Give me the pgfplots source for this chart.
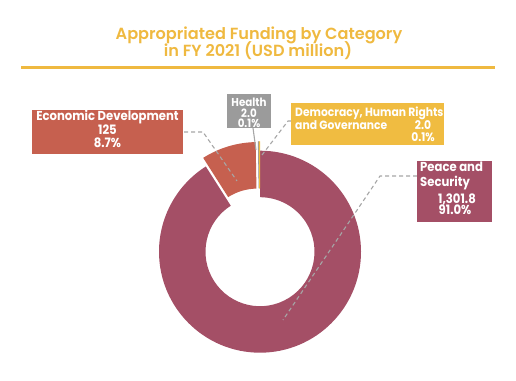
\documentclass[border=0pt]{standalone}
\usepackage{pgfplots}
\usepackage{pgfplotstable}
\pgfplotsset{compat=1.18}
\usepackage{fontspec}
\setmainfont{Poppins}
\newfontfamily\titlefont{Poppins}[UprightFont={* SemiBold}]
\newfontfamily\lblfont{Poppins}[UprightFont={* Bold}, FakeStretch=0.9]
\definecolor{gold}{RGB}{239,185,64}
\definecolor{demo}{RGB}{240,188,65}
\definecolor{econ}{RGB}{198,96,79}
\definecolor{peace}{RGB}{164,79,102}
\definecolor{health}{RGB}{155,155,155}
\definecolor{lead}{RGB}{166,166,166}

\pgfplotstableread{
cat value
Peace 1301.8
Econ 125
Health 2.0
Democ 2.0
}\fundtable

\begin{document}
\begin{tikzpicture}
\begin{axis}[
  scale only axis, width=516bp, height=381bp,
  xmin=0, xmax=516, ymin=0, ymax=381,
  hide axis, clip=false]
\path (axis cs:0,0) rectangle (axis cs:516,381);
\pgfplotstablegetelem{0}{value}\of\fundtable \let\vP\pgfplotsretval
\pgfplotstablegetelem{1}{value}\of\fundtable \let\vE\pgfplotsretval
\pgfplotstablegetelem{2}{value}\of\fundtable \let\vH\pgfplotsretval
\pgfplotstablegetelem{3}{value}\of\fundtable \let\vD\pgfplotsretval
\pgfmathsetmacro\tot{\vP/100+\vE/100+\vH/100+\vD/100}
\pgfmathsetmacro\aA{90}
\pgfmathsetmacro\aB{\aA-3.6*((\vP/100)/\tot)*100}
\pgfmathsetmacro\aC{\aB-3.6*((\vE/100)/\tot)*100}
\pgfmathsetmacro\aD{\aC-3.6*((\vH/100)/\tot)*100}
\pgfmathsetmacro\aE{\aD-3.6*((\vD/100)/\tot)*100}
\pgfmathsetmacro\mE{(\aB+\aC)/2}
\pgfmathsetmacro\mH{(\aC+\aD)/2}
\pgfmathsetmacro\mD{(\aD+\aE)/2}
% Peace and Security
\fill[peace, shift={(axis cs:260,129.3)}]
  (\aA:101bp) arc[start angle=\aA, end angle=\aB, radius=101bp]
  -- (\aB:54.5bp) arc[start angle=\aB, end angle=\aA, radius=54.5bp] -- cycle;
% Economic Development (exploded)
\fill[econ, shift={(axis cs:260,129.3)}, shift={(\mE:9bp)}]
  (\aB:101bp) arc[start angle=\aB, end angle=\aC, radius=101bp]
  -- (\aC:54.5bp) arc[start angle=\aC, end angle=\aB, radius=54.5bp] -- cycle;
% Health
\filldraw[health, line width=0.5bp, shift={(axis cs:260,129.3)}, shift={(\mH:9bp)}]
  (\aC:101bp) arc[start angle=\aC, end angle=\aD, radius=101bp]
  -- (\aD:54.5bp) arc[start angle=\aD, end angle=\aC, radius=54.5bp] -- cycle;
% Democracy
\filldraw[demo, line width=0.5bp, shift={(axis cs:260,129.3)}, shift={(\mD:9bp)}]
  (\aD:101bp) arc[start angle=\aD, end angle=\aE, radius=101bp]
  -- (\aE:54.5bp) arc[start angle=\aE, end angle=\aD, radius=54.5bp] -- cycle;

% title
\node[anchor=base, text=gold, font={\titlefont\fontsize{16.2}{18}\selectfont}] at (axis cs:259,341.7) {Appropriated Funding by Category};
\node[anchor=base, text=gold, font={\titlefont\fontsize{16.2}{18}\selectfont}] at (axis cs:258,324.3) {in FY 2021 (USD million)};
\draw[gold, line width=3.3bp] (axis cs:21,313.3) -- (axis cs:495,313.3);

% leaders
\draw[lead, line width=1.1bp, dash pattern=on 4bp off 3bp] (axis cs:184,249) -- (axis cs:203,249) -- (axis cs:237,200);
\draw[lead, line width=1.1bp] (axis cs:253,253) -- (axis cs:256,231);
\draw[lead, line width=1.1bp, dash pattern=on 4bp off 3bp] (axis cs:291,260) -- (axis cs:288,260) -- (axis cs:262,226);
\draw[lead, line width=1.1bp, dash pattern=on 4bp off 3bp] (axis cs:417,205) -- (axis cs:380,205) -- (axis cs:283,61);

% label boxes
\fill[econ] (axis cs:32,271) rectangle (axis cs:183,227);
\fill[health] (axis cs:227,287) rectangle (axis cs:271,253);
\fill[demo] (axis cs:291,278) rectangle (axis cs:444,236);
\fill[peace] (axis cs:417,220) rectangle (axis cs:492,159);

\begin{scope}[every node/.style={text=white, font={\lblfont\fontsize{13}{14}\selectfont}, inner sep=0pt}]
\node[anchor=base] at (axis cs:107.5,260) {Economic Development};
\node[anchor=base] at (axis cs:107.5,246.5) {125};
\node[anchor=base] at (axis cs:107.5,233) {8.7\%};
\node[anchor=base, font={\lblfont\fontsize{11.5}{12}\selectfont}] at (axis cs:249,274) {Health};
\node[anchor=base, font={\lblfont\fontsize{11.5}{12}\selectfont}] at (axis cs:249,263.6) {2.0};
\node[anchor=base, font={\lblfont\fontsize{11.5}{12}\selectfont}] at (axis cs:249,253.2) {0.1\%};
\node[anchor=base west, font={\lblfont\fontsize{12}{13}\selectfont}] at (axis cs:295,264.3) {Democracy, Human Rights};
\node[anchor=base west, font={\lblfont\fontsize{12}{13}\selectfont}] at (axis cs:295,251) {and Governance};
\node[anchor=base, font={\lblfont\fontsize{12}{13}\selectfont}] at (axis cs:423,251) {2.0};
\node[anchor=base, font={\lblfont\fontsize{12}{13}\selectfont}] at (axis cs:423,239.3) {0.1\%};
\node[anchor=base west] at (axis cs:420,209.3) {Peace and};
\node[anchor=base west] at (axis cs:420,194.3) {Security};
\node[anchor=base] at (axis cs:457,177.7) {1,301.8};
\node[anchor=base] at (axis cs:455,166) {91.0\%};
\end{scope}
\end{axis}
\end{tikzpicture}
\end{document}
